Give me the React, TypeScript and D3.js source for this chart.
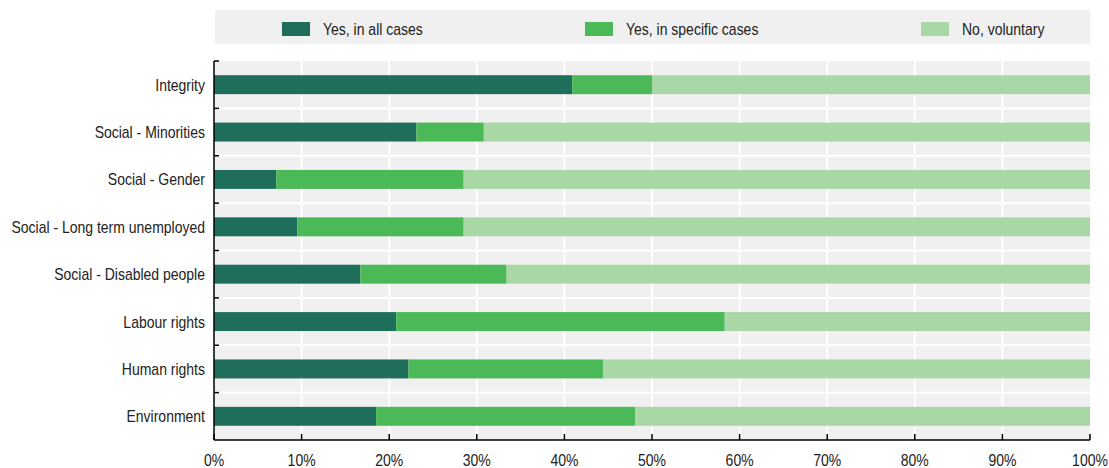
import { range, scaleBand, scaleLinear, stack } from 'd3'

const categories = [
  'Integrity',
  'Social - Minorities',
  'Social - Gender',
  'Social - Long term unemployed',
  'Social - Disabled people',
  'Labour rights',
  'Human rights',
  'Environment',
]

const seriesNames = ['Yes, in all cases', 'Yes, in specific cases', 'No, voluntary']

const yesAllCases = [40.9, 23.1, 7.1, 9.5, 16.7, 20.8, 22.2, 18.5]
const yesSpecificCases = [9.1, 7.7, 21.4, 19.0, 16.7, 37.5, 22.2, 29.6]
const noVoluntary = [50.0, 69.2, 71.5, 71.5, 66.6, 41.7, 55.6, 51.9]

const xTicks = [0, 10, 20, 30, 40, 50, 60, 70, 80, 90, 100]

const colors = ['#1f6e5b', '#4bb958', '#a9d8a6']

type Row = { category: string } & Record<string, number | string>

const rows: Row[] = categories.map((category, index) => ({
  category,
  [seriesNames[0]]: yesAllCases[index],
  [seriesNames[1]]: yesSpecificCases[index],
  [seriesNames[2]]: noVoluntary[index],
}))

// no narrow font installed, so squeeze Liberation Sans horizontally
const font = '"Liberation Sans", Arial, sans-serif'
const squeeze = 0.875

type LabelProps = {
  readonly x: number
  readonly y: number
  readonly anchor?: 'start' | 'middle' | 'end'
  readonly children: string
}

function Label({ x, y, anchor = 'start', children }: LabelProps) {
  return (
    <text
      transform={`translate(${x},${y}) scale(${squeeze},1)`}
      fontSize={16}
      textAnchor={anchor}
      fill="#222"
    >
      {children}
    </text>
  )
}

export default function App() {
  const width = 1109
  const height = 468
  const plotLeft = 214
  const plotRight = 1090
  const plotTop = 61
  const plotBottom = 440

  const xScale = scaleLinear().domain([0, 100]).range([plotLeft, plotRight])
  const yScale = scaleBand<string>()
    .domain(categories)
    .range([plotTop, plotBottom])
    .paddingInner(0.6)
    .paddingOuter(0.3)
  const step = yScale.step()
  const rowEdges = range(categories.length + 1).map((i) => plotTop + i * step)

  const series = stack<Row>()
    .keys(seriesNames)
    .value((row, key) => row[key] as number)(rows)

  const legendItems = [
    { name: seriesNames[0], x: 282, color: colors[0] },
    { name: seriesNames[1], x: 585, color: colors[1] },
    { name: seriesNames[2], x: 921, color: colors[2] },
  ]

  return (
    <svg
      width={width}
      height={height}
      style={{ position: 'fixed', left: 0, top: 0, background: '#fff' }}
      fontFamily={font}
    >
      {/* legend */}
      <rect x={215} y={10} width={875} height={34} fill="#f0f0f0" />
      {legendItems.map((item) => (
        <g key={item.name}>
          <rect x={item.x} y={22} width={28} height={14} fill={item.color} />
          <Label x={item.x + 41} y={35}>
            {item.name}
          </Label>
        </g>
      ))}

      {/* plot background and grid */}
      <rect
        x={plotLeft}
        y={plotTop}
        width={plotRight - plotLeft}
        height={plotBottom - plotTop}
        fill="#f0f0f0"
      />
      {xTicks.slice(1, -1).map((tick) => (
        <line
          key={`vg-${tick}`}
          x1={xScale(tick)}
          x2={xScale(tick)}
          y1={plotTop}
          y2={plotBottom}
          stroke="#fff"
          strokeWidth={2}
        />
      ))}
      {rowEdges.slice(1, -1).map((edge) => (
        <line
          key={`hg-${edge}`}
          x1={plotLeft}
          x2={plotRight}
          y1={edge}
          y2={edge}
          stroke="#fff"
          strokeWidth={2}
        />
      ))}

      {/* bars */}
      {series.map((layer, layerIndex) => (
        <g key={layer.key} fill={colors[layerIndex]}>
          {layer.map((segment) => (
            <rect
              key={segment.data.category}
              x={xScale(segment[0])}
              y={yScale(segment.data.category)}
              width={xScale(segment[1]) - xScale(segment[0])}
              height={yScale.bandwidth()}
            />
          ))}
        </g>
      ))}

      {/* axes */}
      <line x1={plotLeft} x2={plotLeft} y1={plotTop} y2={plotBottom} stroke="#000" strokeWidth={1.5} />
      <line x1={plotLeft} x2={plotRight} y1={plotBottom} y2={plotBottom} stroke="#000" strokeWidth={1.5} />
      {rowEdges.slice(0, -1).map((edge) => (
        <line
          key={`yt-${edge}`}
          x1={plotLeft}
          x2={plotLeft + 5}
          y1={edge}
          y2={edge}
          stroke="#000"
          strokeWidth={1.5}
        />
      ))}
      {xTicks.map((tick) => (
        <g key={`xt-${tick}`}>
          <line
            x1={xScale(tick)}
            x2={xScale(tick)}
            y1={plotBottom}
            y2={plotBottom - 6}
            stroke="#000"
            strokeWidth={1.5}
          />
          <Label x={xScale(tick)} y={466} anchor="middle">
            {`${tick}%`}
          </Label>
        </g>
      ))}
      {categories.map((category) => (
        <Label
          key={`yl-${category}`}
          x={205}
          y={(yScale(category) ?? 0) + yScale.bandwidth() / 2 + 6}
          anchor="end"
        >
          {category}
        </Label>
      ))}
    </svg>
  )
}
